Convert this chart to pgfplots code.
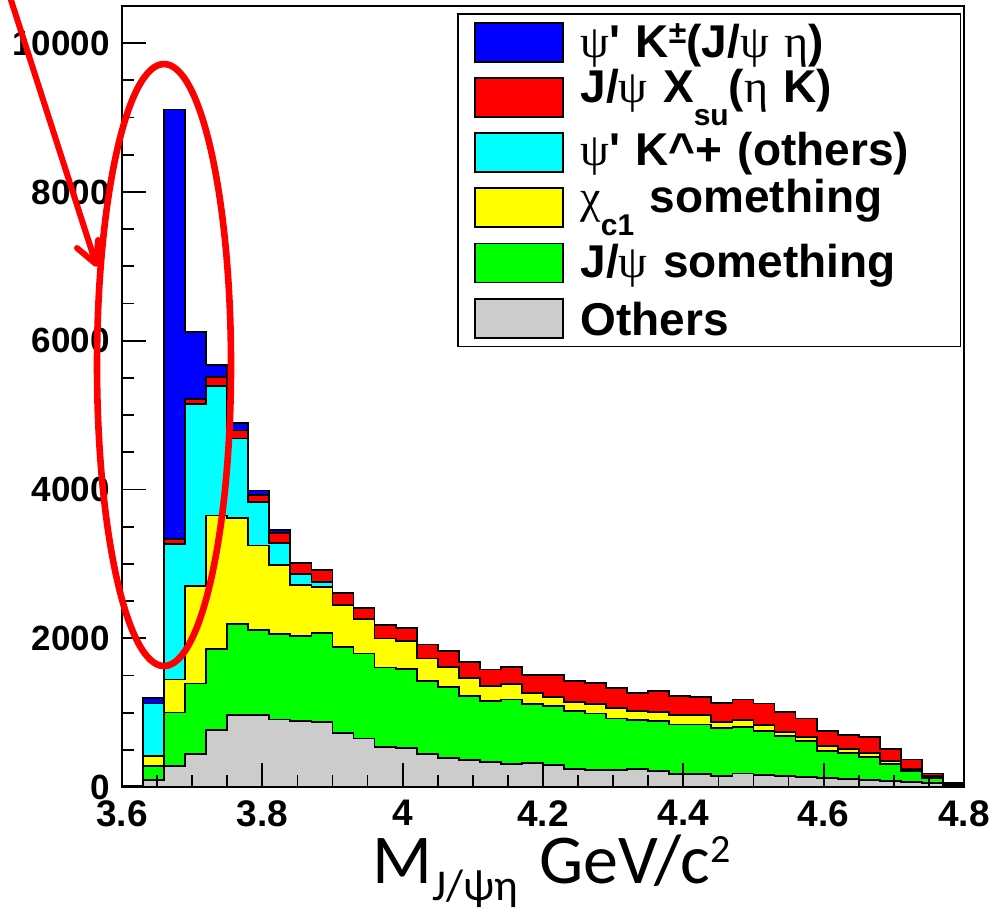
\documentclass[border=0pt]{standalone}
\usepackage{fontspec}
\setmainfont{Liberation Sans}[Ligatures=TeXOff]
\newfontfamily\calibri{Carlito}
\newfontfamily\symbolfont{Liberation Serif}[Ligatures=TeXOff]
\usepackage{pgfplots}
\usepackage{pgfplotstable}
\pgfplotsset{compat=1.18}

\definecolor{hblue}{rgb}{0,0,1}
\definecolor{hred}{rgb}{1,0,0}
\definecolor{hcyan}{rgb}{0,1,1}
\definecolor{hyellow}{rgb}{1,1,0}
\definecolor{hgreen}{rgb}{0,1,0}
\definecolor{hgray}{rgb}{0.8,0.8,0.8}

% Greek letters in a serif face, indices for the legend
\newcommand{\gk}[1]{{\symbolfont\mdseries #1}}
\newcommand{\dnidx}[1]{\raisebox{-11.5pt}{\fontsize{15}{15}\selectfont #1}}
\newcommand{\upidx}[1]{\raisebox{7pt}{\fontsize{16}{16}\selectfont #1}}

% Event counts per 0.03 GeV/c^2 bin (left bin edges; last row closes the histogram)
\pgfplotstableread{
x     oth  jpsi  chi   psik  xsu  psipm
3.60  0    15    0     0     0    0
3.63  94   192   134   703   0    76
3.66  286  717   443   1816  67   5781
3.69  443  949   1306  2452  67   904
3.72  765  1087  1799  1745  117  161
3.75  966  1222  1427  1070  107  103
3.78  966  1141  1141  582   99   58
3.81  909  1145  926   304   134  32
3.84  890  1137  694   138   157  0
3.87  877  1194  618   67    166  0
3.90  729  1154  560   0     165  0
3.93  653  1141  461   0     157  0
3.96  541  1066  389   0     178  0
3.99  528  1056  374   0     177  0
4.02  443  984   300   0     188  0
4.05  394  953   268   0     215  0
4.08  362  864   241   0     215  0
4.11  331  827   202   0     220  0
4.14  309  868   206   0     232  0
4.17  318  796   152   0     237  0
4.20  295  796   121   0     291  0
4.23  242  778   125   0     278  0
4.26  228  761   125   0     286  0
4.29  228  694   142   0     269  0
4.32  237  662   125   0     242  0
4.35  215  675   121   0     282  0
4.38  174  667   125   0     254  0
4.41  174  667   125   0     247  0
4.44  148  648   81    0     255  0
4.47  183  627   89    0     278  0
4.50  161  591   80    0     291  0
4.53  148  537   58    0     268  0
4.56  139  478   59    0     246  0
4.59  116  372   62    0     206  0
4.62  107  345   54    0     192  0
4.65  94   313   54    0     215  0
4.68  85   224   45    0     156  0
4.71  63   152   27    0     129  0
4.74  50   75    23    0     35   0
4.77  27   31    0     0     0    0
4.80  27   31    0     0     0    0
}\hist

\begin{document}
\begin{tikzpicture}
\begin{axis}[
  scale only axis, width=421pt, height=390.5pt,
  xmin=3.6, xmax=4.8, ymin=0, ymax=10500,
  axis on top,
  axis line style={draw=black, line width=1pt},
  xtick={3.6,3.8,4.0,4.2,4.4,4.6,4.8},
  xticklabels={3.6,3.8,4,4.2,4.4,4.6,4.8},
  ytick={0,2000,4000,6000,8000,10000},
  yticklabels={0,2000,4000,6000,8000,10000},
  minor x tick num=3, minor y tick num=3,
  tick align=inside, xtick pos=bottom, ytick pos=left,
  major tick length=12pt, minor tick length=6pt,
  tick style={black, line width=0.9pt},
  yticklabel style={font=\bfseries\fontsize{17.5}{17.5}\selectfont, inner sep=0pt, xshift=-6pt},
  xticklabel style={font=\bfseries\fontsize{18.5}{18.5}\selectfont, inner sep=0pt, yshift=-6.5pt},
  xlabel={M\raisebox{-8.5pt}{\fontsize{22}{22}\selectfont J/ψη}\hspace{3pt} GeV/c\raisebox{10.5pt}{\fontsize{20}{20}\selectfont 2}},
  xlabel style={at={(axis description cs:0.51,0)}, anchor=base, yshift=-48pt,
    inner sep=0pt, font=\calibri\fontsize{35}{35}\selectfont},
  legend style={at={(axis description cs:0.3979,0.991)}, anchor=north west,
    draw=black, line width=0.75pt, fill=white,
    inner xsep=8pt, inner ysep=4pt, row sep=7.2pt, column sep=8.5pt,
    font=\bfseries\fontsize{23}{23}\selectfont,
    nodes={inner sep=0pt, text height=19pt, text depth=0.5pt,
      text width=182pt, align=left}},
  legend cell align=left,
  legend image code/.code={\draw[#1, line width=0.9pt] (0pt,-9.75pt) rectangle (44pt,9.75pt);},
]
% cumulative stack, drawn from the top contribution down
\addplot[fill=hblue, draw=black, line width=0.9pt, const plot mark left]
  table[x=x, y expr=\thisrow{oth}+\thisrow{jpsi}+\thisrow{chi}+\thisrow{psik}+\thisrow{xsu}+\thisrow{psipm}] {\hist} \closedcycle;
\addlegendentry{\raisebox{1.5pt}{\gk{ψ}' K\upidx{±}(J/\gk{ψ} \gk{η})}}
\addplot[fill=hred, draw=black, line width=0.9pt, const plot mark left]
  table[x=x, y expr=\thisrow{oth}+\thisrow{jpsi}+\thisrow{chi}+\thisrow{psik}+\thisrow{xsu}] {\hist} \closedcycle;
\addlegendentry{\raisebox{6.5pt}{J/\gk{ψ} X\dnidx{su}(\gk{η} K)}}
\addplot[fill=hcyan, draw=black, line width=0.9pt, const plot mark left]
  table[x=x, y expr=\thisrow{oth}+\thisrow{jpsi}+\thisrow{chi}+\thisrow{psik}] {\hist} \closedcycle;
\addlegendentry{\raisebox{2.75pt}{\gk{ψ}' K\^{}+ (others)}}
\addplot[fill=hyellow, draw=black, line width=0.9pt, const plot mark left]
  table[x=x, y expr=\thisrow{oth}+\thisrow{jpsi}+\thisrow{chi}] {\hist} \closedcycle;
\addlegendentry{\raisebox{7pt}{\gk{χ}\dnidx{c1} something}}
\addplot[fill=hgreen, draw=black, line width=0.9pt, const plot mark left]
  table[x=x, y expr=\thisrow{oth}+\thisrow{jpsi}] {\hist} \closedcycle;
\addlegendentry{\raisebox{2pt}{J/\gk{ψ} something}}
\addplot[fill=hgray, draw=black, line width=0.9pt, const plot mark left]
  table[x=x, y=oth] {\hist} \closedcycle;
\addlegendentry{\raisebox{0.5pt}{Others}}

% anchor points for the highlight drawn over the frame
\coordinate (ellc) at (rel axis cs:0.0499,0.5403);
\coordinate (arS) at (rel axis cs:-0.1330,1.0115);
\coordinate (arT) at (rel axis cs:-0.0309,0.6697);
\coordinate (arL) at (rel axis cs:-0.0534,0.6901);
\coordinate (arR) at (rel axis cs:-0.0285,0.7004);
\coordinate (bbsw) at (rel axis cs:-0.1449,-0.1588);
\coordinate (bbne) at (rel axis cs:1.0487,1.0077);
\end{axis}
\draw[hred, line width=3.3pt] (ellc) ellipse [x radius=33.5pt, y radius=150.5pt];
\draw[hred, line width=3pt] (arS) -- (arT);
\draw[hred, line width=3pt, line cap=round, line join=round] (arL) -- (arT) -- (arR);
\pgfresetboundingbox
\path (bbsw) rectangle (bbne);
\end{tikzpicture}
\end{document}
